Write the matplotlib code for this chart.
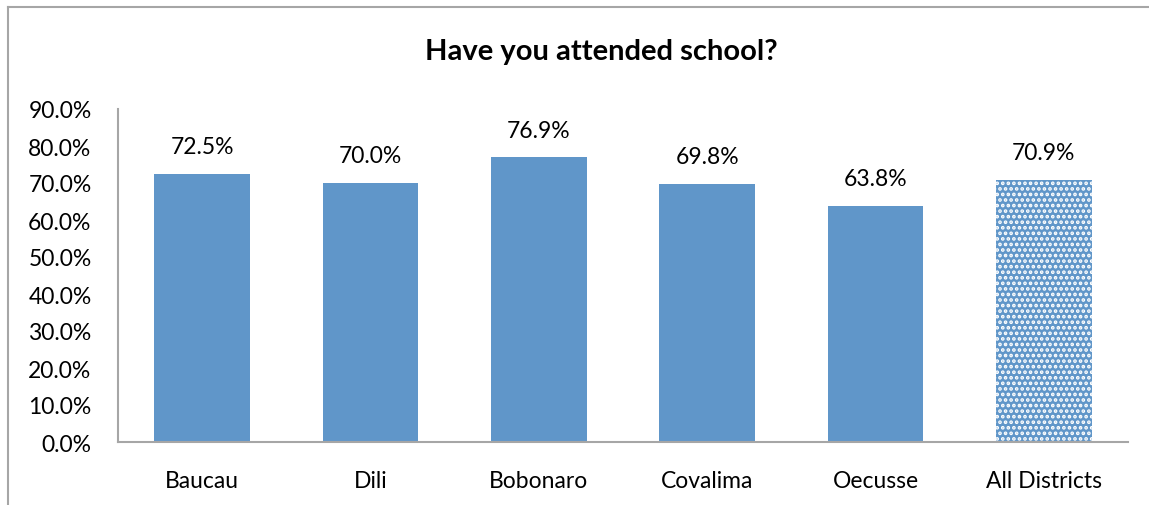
import matplotlib
matplotlib.use("Agg")
import matplotlib.pyplot as plt
from matplotlib.lines import Line2D

categories = ["Baucau", "Dili", "Bobonaro", "Covalima", "Oecusse", "All Districts"]
values = [72.5, 70.0, 76.9, 69.8, 63.8, 70.9]
yticks = [0, 10, 20, 30, 40, 50, 60, 70, 80, 90]
title = "Have you attended school?"

plt.rcParams['font.family'] = ['Lato', 'DejaVu Sans']
plt.rcParams['hatch.linewidth'] = 1.8
plt.rcParams['hatch.color'] = 'white'

W, H = 1149, 506
fig = plt.figure(figsize=(W/100, H/100), dpi=100)
ax = fig.add_axes([118/W, 1-443/H, (1128-118)/W, (443-110)/H])

blue = '#6096C9'
x = list(range(len(categories)))
bars = ax.bar(x, values, width=0.57, color=blue, edgecolor='none', zorder=2)
bars[-1].set_hatch('...')
bars[-1].set_edgecolor('white')
bars[-1].set_linewidth(0)

fs = 16.5
for xi, v in zip(x, values):
    ax.annotate(f"{v:.1f}%", (xi, v), xytext=(0, 19.5), textcoords='offset points',
                ha='center', va='center', fontsize=fs, color='black')

ax.set_xlim(-0.5, len(categories)-0.5)
ax.set_ylim(0, 90)
ax.set_yticks(yticks)
ax.set_yticklabels([f"{t:.1f}%" for t in yticks], fontsize=fs)
ax.set_xticks(x)
ax.set_xticklabels(categories, fontsize=fs)
ax.tick_params(length=0)
ax.tick_params(axis='y', pad=19)
ax.tick_params(axis='x', pad=20)
for s in ['top', 'right']:
    ax.spines[s].set_visible(False)
for s in ['left', 'bottom']:
    ax.spines[s].set_color('#A6A6A6')
    ax.spines[s].set_linewidth(1.5)

fig.text(601/W, 1-52/H, title, ha='center', va='center', fontsize=21, fontweight='bold')

# outer chart border (clipped by image edges)
fig.add_artist(Line2D([7.5/W, 7.5/W], [0, 1-7.5/H], color='#A6A6A6', lw=1.5, transform=fig.transFigure))
fig.add_artist(Line2D([7.5/W, 1], [1-7.5/H, 1-7.5/H], color='#A6A6A6', lw=1.5, transform=fig.transFigure))

fig.savefig("out.png", dpi=100)
